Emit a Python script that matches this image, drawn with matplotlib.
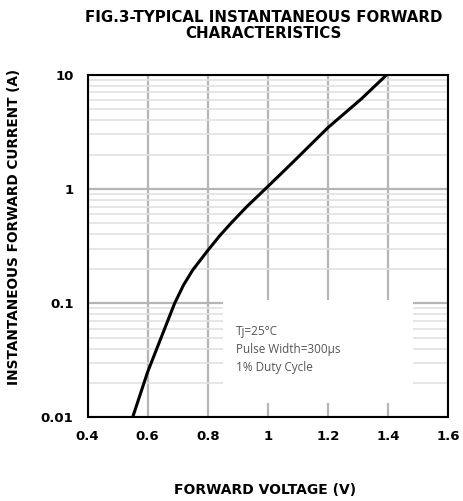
import matplotlib.pyplot as plt
from matplotlib.patches import Rectangle
from matplotlib.ticker import FixedLocator, NullFormatter

# values
voltage = [0.55, 0.6, 0.645, 0.69, 0.72, 0.75, 0.8, 0.84, 0.88, 0.93, 1.0,
           1.08, 1.2, 1.31, 1.396]
current = [0.01, 0.025, 0.05, 0.1, 0.145, 0.195, 0.289, 0.39, 0.51, 0.70, 1.05,
           1.68, 3.44, 6.1, 10]

x_ticks = [0.4, 0.6, 0.8, 1.0, 1.2, 1.4, 1.6]
x_labels = ['0.4', '0.6', '0.8', '1', '1.2', '1.4', '1.6']
y_ticks = [0.01, 0.1, 1, 10]
y_labels = ['0.01', '0.1', '1', '10']

fig = plt.figure(figsize=(4.63, 5.01), dpi=100)
ax = fig.add_axes([0.189, 0.1667, 0.779, 0.6843])

ax.set_yscale('log')
ax.set_xlim(0.4, 1.6)
ax.set_ylim(0.01, 10)

ax.set_xticks(x_ticks)
ax.set_xticklabels(x_labels, fontsize=9.5, fontweight='bold')
ax.set_yticks(y_ticks)
ax.set_yticklabels(y_labels, fontsize=9.5, fontweight='bold')
minor = [m * d for d in (0.01, 0.1, 1) for m in range(2, 10)]
ax.yaxis.set_minor_locator(FixedLocator(minor))
ax.yaxis.set_minor_formatter(NullFormatter())
ax.tick_params(axis='x', which='both', length=0, pad=9)
ax.tick_params(axis='y', which='both', length=0, pad=10)

ax.grid(True, which='major', axis='both', color='#b5b5b5', lw=1.6)
ax.grid(True, which='minor', axis='y', color='#e2e2e2', lw=1.2)
ax.set_axisbelow(True)

for s in ax.spines.values():
    s.set_linewidth(1.5)
    s.set_color('black')

# white box behind the note
ax.add_patch(Rectangle((0.852, 0.0135), 0.632, 0.093, transform=ax.transData,
                       facecolor='white', edgecolor='none', zorder=1.5))

ax.plot(voltage, current, color='black', lw=2.2, zorder=3, solid_joinstyle='round')

ax.text(0.895, 0.065, 'Tj=25\u00b0C\nPulse Width=300\u03bcs\n1% Duty Cycle',
        fontsize=8.5, color='#555555', family='Open Sans', va='top',
        linespacing=1.5, zorder=4)

fig.text(0.569, 0.980, 'FIG.3-TYPICAL INSTANTANEOUS FORWARD\nCHARACTERISTICS',
         ha='center', va='top', fontsize=10.8, fontweight='bold', linespacing=1.05)
fig.text(0.572, 0.022, 'FORWARD VOLTAGE (V)', ha='center', va='center',
         fontsize=10, fontweight='bold')
fig.text(0.030, 0.546, 'INSTANTANEOUS FORWARD CURRENT (A)', ha='center',
         va='center', rotation=90, fontsize=9.8, fontweight='bold')

fig.savefig('out.png', dpi=100)
